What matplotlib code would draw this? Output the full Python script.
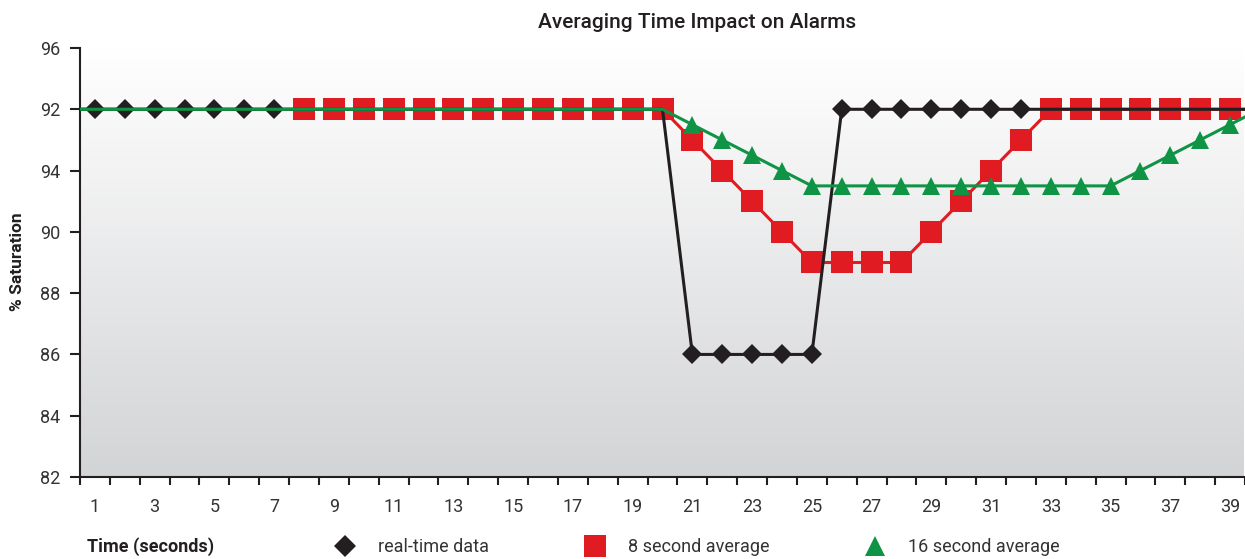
import numpy as np
import matplotlib
matplotlib.use("Agg")
import matplotlib.pyplot as plt
from matplotlib.lines import Line2D

# Время (секунды), включая точку 0 слева от оси
time = np.arange(0, 41)

# Положения серий на оси Y
realtime = [94] * 21 + [86] * 5 + [94] * 15
avg8 = [94] * 21 + [93, 92, 91, 90, 89, 89, 89, 89, 90, 91, 92, 93] + [94] * 8
avg16 = [94] * 21 + [93.5, 93, 92.5, 92] + [91.5] * 11 + [92, 92.5, 93, 93.5, 94]

# Подписи оси Y (как в исходном отчёте)
y_ticks = [82, 84, 86, 88, 90, 92, 94, 96]
y_labels = ["82", "84", "86", "88", "90", "94", "92", "96"]
x_ticks = list(range(1, 40, 2))

series_names = ["real-time data", "8 second average", "16 second average"]

plt.rcParams["font.family"] = ["Roboto", "DejaVu Sans"]

BLACK = "#231f20"
RED = "#e01b22"
GREEN = "#0e9444"

W, H = 1245, 559
fig = plt.figure(figsize=(W / 100, H / 100), dpi=100)
ax = fig.add_axes([80 / W, 1 - 477 / H, 1 - 80 / W, (477 - 48) / H])

x_lo, x_hi = 0.5, 39.45
y_lo, y_hi = 82, 96

# Градиентный фон: сверху белый, внизу серый
grad = np.linspace(0, 1, 256).reshape(-1, 1)
top = np.array([1.0, 1.0, 1.0])
bottom = np.array([0.827, 0.831, 0.84])
img = top + (bottom - top) * grad[:, :, None]
ax.imshow(img, extent=[x_lo, x_hi, y_lo, y_hi], origin="upper",
          aspect="auto", zorder=0, interpolation="bilinear")

ax.plot(time, avg8, color=RED, lw=2.2, marker="s", ms=16, mew=0,
        markevery=list(range(8, 41)), zorder=3)
ax.plot(time, realtime, color=BLACK, lw=2.2, marker="D", ms=10, mew=0,
        markevery=list(range(1, 8)) + list(range(21, 33)), zorder=4)
ax.plot(time, avg16, color=GREEN, lw=2.2, marker="^", ms=13.5, mew=0,
        markevery=list(range(21, 41)), zorder=5)

ax.set_xlim(x_lo, x_hi)
ax.set_ylim(y_lo, y_hi)

ax.set_yticks(y_ticks)
ax.set_yticklabels(y_labels)
ax.set_xticks(x_ticks)
ax.set_xticks(np.arange(0.5, 40, 1), minor=True)
ax.tick_params(axis="x", which="major", length=0, pad=15, labelsize=13,
               labelcolor="#333333")
ax.tick_params(axis="x", which="minor", length=6, width=1.5, color=BLACK)
ax.tick_params(axis="y", length=7, width=1.5, color=BLACK, pad=7,
               labelsize=13, labelcolor="#333333")

for side in ["top", "right"]:
    ax.spines[side].set_visible(False)
for side in ["left", "bottom"]:
    ax.spines[side].set_color(BLACK)
    ax.spines[side].set_linewidth(1.5)

fig.text(697 / W, 1 - 22 / H, "Averaging Time Impact on Alarms",
         ha="center", va="center", fontsize=15, fontweight="medium",
         color="#231f20")
fig.text(18 / W, 1 - 262 / H, "% Saturation", rotation=90,
         ha="center", va="center", fontsize=12.5, fontweight="bold",
         color="#231f20")
fig.text(87 / W, 1 - 547 / H, "Time (seconds)", ha="left", va="center",
         fontsize=13, fontweight="bold", color="#231f20")

handles = [
    Line2D([], [], ls="none", marker="D", ms=11, color=BLACK, mew=0),
    Line2D([], [], ls="none", marker="s", ms=16, color=RED, mew=0),
    Line2D([], [], ls="none", marker="^", ms=15, color=GREEN, mew=0),
]
fig.legend(handles, series_names, loc="center left",
           bbox_to_anchor=(331 / W, 1 - 547 / H), ncol=3, frameon=False,
           fontsize=13, handletextpad=1.1, columnspacing=5.1,
           handlelength=1.5, borderaxespad=0, borderpad=0,
           labelcolor="#333333")

fig.savefig("out.png", dpi=100)
